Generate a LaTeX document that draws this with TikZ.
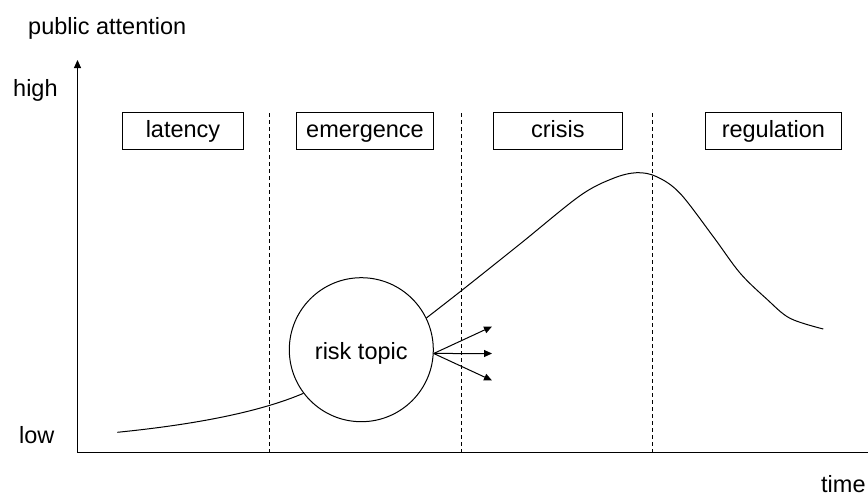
\documentclass[tikz,border=0pt]{standalone}
\usepackage{fontspec}
\setmainfont{Liberation Sans}
\usetikzlibrary{arrows.meta}
\begin{document}
\begin{tikzpicture}[x=1pt,y=-1pt,
  every node/.style={font=\fontsize{23.5}{28}\selectfont, inner sep=0pt},
  line/.style={line width=1pt, black},
  phasebox/.style={draw, line width=1pt, minimum height=37.5pt, inner sep=0pt, text height=16.8pt, text depth=4.9pt},
  divider/.style={line width=1pt, dash pattern=on 4pt off 3pt},
  tip/.style={-{Triangle[length=8pt,width=7pt]}},
  lbl/.style={anchor=base west}]
\useasboundingbox (0,0) rectangle (868,498);
% axes
\coordinate (origin) at (77.5,452.5);
\coordinate (ytop) at (77.5,60);
\coordinate (xend) at (868,452.5);
\draw[line, tip] (origin) -- (ytop);
\draw[line] (origin) -- (xend);
% axis labels
\node[lbl] (pa) at (28,34) {public attention};
\node[lbl] (high) at (13,96.7) {high};
\node[lbl] (low) at (19,443.3) {low};
\node[lbl] (time) at (821,492.5) {time};
% phase boxes
\node[phasebox, minimum width=120.6pt] (lat) at (183,131.2) {latency};
\node[phasebox, minimum width=136.6pt] (eme) at (365,131.2) {emergence};
\node[phasebox, minimum width=129pt] (cri) at (557.8,131.2) {crisis};
\node[phasebox, minimum width=135.3pt] (reg) at (773.35,131.2) {regulation};
% dividers
\coordinate (d1t) at (269.5,113); \coordinate (d1b) at (269.5,452.5);
\coordinate (d2t) at (461,113);   \coordinate (d2b) at (461,452.5);
\coordinate (d3t) at (652.5,113); \coordinate (d3b) at (652.5,452.5);
\draw[divider] (d1t) -- (d1b);
\draw[divider] (d2t) -- (d2b);
\draw[divider] (d3t) -- (d3b);
% risk topic circle
\node[circle, draw, line width=1pt, minimum size=144pt, fill=white, text height=25pt, text depth=4.9pt] (risk) at (361.3,349.7) {risk topic};
% attention curve
\coordinate (c0) at (117.3,432.3);
\draw[line] (c0) .. controls (200,424) and (262,411) .. (risk.217);
\coordinate (u0) at (risk.26.4);
\coordinate (u9) at (823.3,329);
\draw[line] plot[smooth, tension=0.55] coordinates {(u0) (461,291) (520,244) (580,195.7) (613.3,178.3) (636.7,172.7) (656.7,176.7) (680,193.3) (713.3,236.7) (740,273) (766.7,299) (790,318.3) (u9)};
% arrows
\coordinate (a1) at (492,326.5);
\coordinate (a2) at (492,353.5);
\coordinate (a3) at (492,380.5);
\draw[line, tip] (risk.-3) -- (a1);
\draw[line, tip] (risk.-3) -- (a2);
\draw[line, tip] (risk.-3) -- (a3);
\end{tikzpicture}
\end{document}
